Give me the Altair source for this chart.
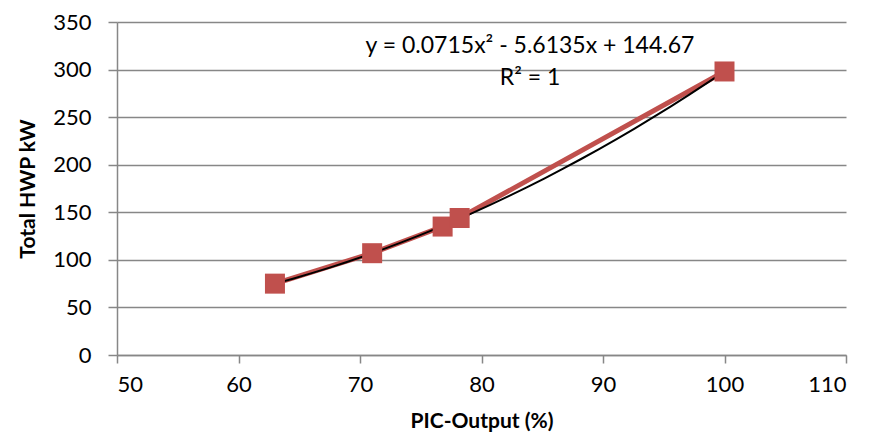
import altair as alt
import pandas as pd

pic_output = [63.0, 71.0, 76.8, 78.2, 100.0]
total_hwp = [75.0, 107.0, 135.0, 144.0, 298.0]
eq_lines = ["y = 0.0715x² - 5.6135x + 144.67", "R² = 1"]

df = pd.DataFrame({"x": pic_output, "y": total_hwp})

FONT = "Lato"
GRID = "#878787"

xs = alt.Scale(domain=[50, 110], nice=False)
ys = alt.Scale(domain=[0, 350], nice=False)

base = alt.Chart(df)

line = base.mark_line(color="#C0504D", strokeWidth=5).encode(
    x=alt.X("x:Q", scale=xs,
            axis=alt.Axis(title="PIC-Output (%)", values=[50, 60, 70, 80, 90, 100, 110],
                          grid=False, tickSize=8, labelPadding=11, titlePadding=15)),
    y=alt.Y("y:Q", scale=ys,
            axis=alt.Axis(title="Total HWP kW", values=[0, 50, 100, 150, 200, 250, 300, 350],
                          grid=True, tickSize=9, labelPadding=17, titlePadding=14)),
)

points = base.mark_point(shape="square", filled=True, size=400, color="#C0504D", opacity=1).encode(
    x=alt.X("x:Q", scale=xs), y=alt.Y("y:Q", scale=ys)
)

trend = base.transform_regression("x", "y", method="poly", order=2, extent=[63, 100]).mark_line(
    color="black", strokeWidth=2
).encode(x=alt.X("x:Q", scale=xs), y=alt.Y("y:Q", scale=ys))

eq = alt.Chart(pd.DataFrame({"t": [eq_lines[0]]})).mark_text(
    font=FONT, fontSize=23, color="black", align="center", baseline="middle"
).encode(text="t:N", x=alt.value(413), y=alt.value(24))

r2 = alt.Chart(pd.DataFrame({"t": [eq_lines[1]]})).mark_text(
    font=FONT, fontSize=23, color="black", align="center", baseline="middle"
).encode(text="t:N", x=alt.value(413), y=alt.value(56))

chart = alt.layer(line, trend, points, eq, r2).properties(
    width=729, height=333,
    autosize=alt.AutoSizeParams(type="none"),
    padding={"left": 109, "top": 14, "right": 25, "bottom": 85},
).configure_view(stroke=None).configure_axis(
    labelFont=FONT, titleFont=FONT, labelFontSize=22, titleFontSize=21,
    labelColor="black", titleColor="black", titleFontWeight="bold",
    domainColor=GRID, tickColor=GRID, gridColor=GRID, domainWidth=1.5, tickWidth=1.5, gridWidth=1.5,
)

chart.save("out.html", embed_options={"renderer": "svg", "actions": False})
